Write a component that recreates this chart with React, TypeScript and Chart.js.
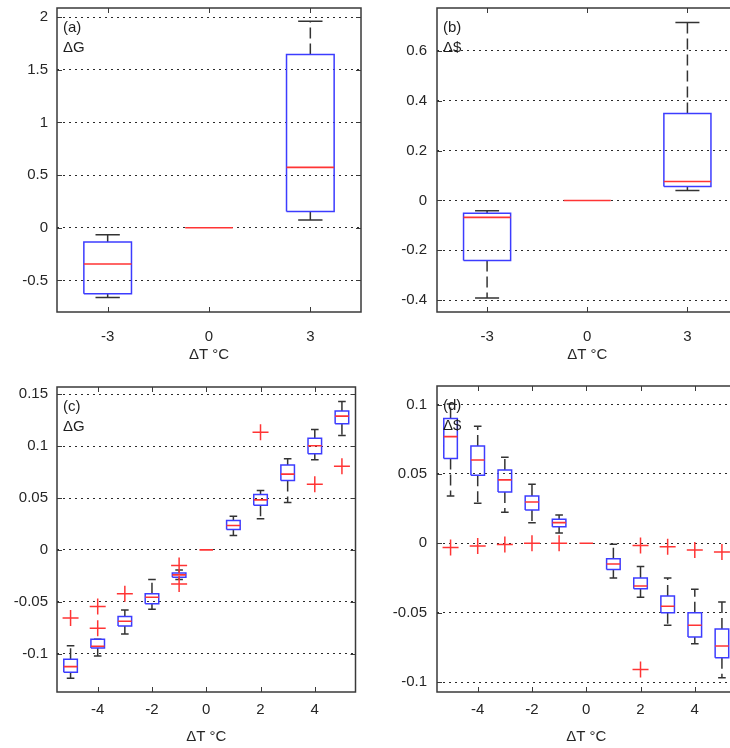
import React, { useEffect, useRef } from 'react';
import { Chart, registerables } from 'chart.js';

Chart.register(...registerables);

// ---------- data ----------
// Panels (a) and (b): three warming scenarios
const catsAB = ['-3', '0', '3'];
const posAB = [1, 2, 3];
const yTicksA = [-0.5, 0, 0.5, 1, 1.5, 2];
const aQ1 = [-0.627, 0, 0.155];
const aMed = [-0.345, 0, 0.573];
const aQ3 = [-0.136, 0, 1.644];
const aLo = [-0.663, 0, 0.073];
const aHi = [-0.067, 0, 1.96];

const yTicksB = [-0.4, -0.2, 0, 0.2, 0.4, 0.6];
const bQ1 = [-0.241, 0, 0.056];
const bMed = [-0.068, 0, 0.076];
const bQ3 = [-0.051, 0, 0.348];
const bLo = [-0.391, 0, 0.04];
const bHi = [-0.041, 0, 0.713];

// Panels (c) and (d): ΔT from -5 to 5 °C
const tempsCD = [-5, -4, -3, -2, -1, 0, 1, 2, 3, 4, 5];
const xTicksCD = [-4, -2, 0, 2, 4];

const yTicksC = [-0.1, -0.05, 0, 0.05, 0.1, 0.15];
const cQ1 = [-0.118, -0.0945, -0.0733, -0.052, -0.0264, 0, 0.0196, 0.0431, 0.0669, 0.0926, 0.1215];
const cMed = [-0.1125, -0.0929, -0.0688, -0.0457, -0.0241, 0, 0.0235, 0.0482, 0.073, 0.1003, 0.1289];
const cQ3 = [-0.1055, -0.0862, -0.0643, -0.0424, -0.0222, 0, 0.0283, 0.0534, 0.0817, 0.1077, 0.1338];
const cLo = [-0.1238, -0.1024, -0.081, -0.0572, -0.0285, 0, 0.0138, 0.0299, 0.0457, 0.0868, 0.1103];
const cHi = [-0.0923, -0.0862, -0.0579, -0.0286, -0.0195, 0, 0.0325, 0.0572, 0.0878, 0.116, 0.1431];
const cOutX = [-5, -4, -4, -3, -1, -1, 2, 4, 5];
const cOutY = [-0.0656, -0.0547, -0.0756, -0.0424, -0.0151, -0.0328, 0.1135, 0.0633, 0.0807];

const yTicksD = [-0.1, -0.05, 0, 0.05, 0.1];
const dQ1 = [0.0611, 0.049, 0.037, 0.024, 0.012, 0, -0.0188, -0.0327, -0.05, -0.0675, -0.0825];
const dMed = [0.0769, 0.0601, 0.0457, 0.0298, 0.0149, 0, -0.0149, -0.0308, -0.0454, -0.0591, -0.074];
const dQ3 = [0.0899, 0.0702, 0.0529, 0.0341, 0.0173, 0, -0.0111, -0.025, -0.038, -0.05, -0.0618];
const dLo = [0.0341, 0.0288, 0.0224, 0.0149, 0.0075, 0, -0.025, -0.0389, -0.0591, -0.0724, -0.0969];
const dHi = [0.1005, 0.0844, 0.062, 0.0426, 0.0204, 0, -0.0007, -0.0168, -0.025, -0.0332, -0.0423];
const dOutX = [-5, -4, -3, -2, -1, 2, 2, 3, 4, 5];
const dOutY = [-0.003, -0.002, -0.0008, 0, 0, -0.0015, -0.0909, -0.0024, -0.0048, -0.0063];

// ---------- styles ----------
const FONT = '"Liberation Sans", Arial, sans-serif';
const TEXT = '#262626';
const BLUE = '#3c3cff';
const RED = '#ff3434';
const DARK = '#333333';

type Pt = { x: number; y: number | null };

function boxDatasets(
  xs: number[], q1: number[], q3: number[], med: number[], lo: number[], hi: number[],
  half: number, capHalf: number, outX: number[], outY: number[]
) {
  const boxes: Pt[] = [];
  const meds: Pt[] = [];
  const whisk: Pt[] = [];
  const caps: Pt[] = [];
  xs.forEach((x, i) => {
    if (q3[i] !== q1[i]) {
      boxes.push(
        { x: x - half, y: q1[i] }, { x: x + half, y: q1[i] }, { x: x + half, y: q3[i] },
        { x: x - half, y: q3[i] }, { x: x - half, y: q1[i] }, { x, y: null }
      );
    }
    meds.push({ x: x - half, y: med[i] }, { x: x + half, y: med[i] }, { x, y: null });
    whisk.push({ x, y: q3[i] }, { x, y: hi[i] }, { x, y: null }, { x, y: q1[i] }, { x, y: lo[i] }, { x, y: null });
    if (hi[i] !== lo[i]) {
      caps.push(
        { x: x - capHalf, y: hi[i] }, { x: x + capHalf, y: hi[i] }, { x, y: null },
        { x: x - capHalf, y: lo[i] }, { x: x + capHalf, y: lo[i] }, { x, y: null }
      );
    }
  });
  const base = { pointRadius: 0, fill: false, tension: 0, spanGaps: false, borderJoinStyle: 'miter' as const };
  const ds: any[] = [
    { ...base, data: whisk, borderColor: DARK, borderWidth: 1.5, borderDash: [11, 5], order: 4 },
    { ...base, data: caps, borderColor: DARK, borderWidth: 1.5, order: 3 },
    { ...base, data: boxes, borderColor: BLUE, borderWidth: 1.5, order: 2 },
    { ...base, data: meds, borderColor: RED, borderWidth: 1.6, order: 1 },
  ];
  if (outX.length) {
    ds.push({
      data: outX.map((x, i) => ({ x, y: outY[i] })),
      showLine: false, pointStyle: 'cross', pointRadius: 8, pointHoverRadius: 8,
      pointBorderColor: RED, pointBorderWidth: 1.5, borderColor: RED, order: 0,
    });
  }
  return ds;
}

type Panel = {
  left: number; top: number; width: number; height: number;
  L: number; T: number; R: number; xH: number;
  xMin: number; xMax: number; xTicks: number[]; xLabel: (v: number) => string;
  yMin: number; yMax: number; yTicks: number[];
  xPad: number; yPad: number; titlePad: number;
  tag: string; qty: string; datasets: any[];
};

function makeFrame(tag: string, qty: string) {
  return {
    id: 'frame' + tag,
    afterDatasetsDraw(chart: any) {
      const { ctx, chartArea: a, scales } = chart;
      ctx.save();
      ctx.fillStyle = '#1e1e1e';
      ctx.font = '15px ' + FONT;
      ctx.textBaseline = 'alphabetic';
      ctx.textAlign = 'left';
      ctx.fillText(tag, a.left + 6, a.top + 24);
      ctx.fillText(qty, a.left + 6, a.top + 43.5);
      ctx.setLineDash([]);
      ctx.strokeStyle = '#3a3a3a';
      ctx.lineWidth = 1;
      const tl = 5;
      scales.y.ticks.forEach((t: any) => {
        const py = Math.round(scales.y.getPixelForValue(t.value)) + 0.5;
        ctx.beginPath();
        ctx.moveTo(a.left, py); ctx.lineTo(a.left + tl, py);
        ctx.moveTo(a.right - tl, py); ctx.lineTo(a.right, py);
        ctx.stroke();
      });
      scales.x.ticks.forEach((t: any) => {
        const px = Math.round(scales.x.getPixelForValue(t.value)) + 0.5;
        ctx.beginPath();
        ctx.moveTo(px, a.top); ctx.lineTo(px, a.top + tl);
        ctx.moveTo(px, a.bottom - tl); ctx.lineTo(px, a.bottom);
        ctx.stroke();
      });
      ctx.lineWidth = 1.5;
      ctx.strokeRect(a.left, a.top, a.right - a.left, a.bottom - a.top);
      ctx.restore();
    },
  };
}

function PanelChart({ p }: { p: Panel }) {
  const ref = useRef<HTMLCanvasElement | null>(null);
  useEffect(() => {
    if (!ref.current) return;
    const font = { family: FONT, size: 15 };
    const chart = new Chart(ref.current, {
      type: 'line',
      data: { datasets: p.datasets },
      options: {
        animation: false,
        responsive: false,
        events: [],
        layout: { padding: { left: 0, top: p.T, right: p.R, bottom: 0 } },
        plugins: { legend: { display: false }, tooltip: { enabled: false } },
        scales: {
          x: {
            type: 'linear',
            min: p.xMin,
            max: p.xMax,
            afterBuildTicks: (s: any) => { s.ticks = p.xTicks.map((v) => ({ value: v })); },
            afterFit: (s: any) => { s.height = p.xH; s.paddingLeft = 0; s.paddingRight = 0; },
            ticks: {
              callback: (v: any) => p.xLabel(Number(v)),
              font, color: TEXT, padding: p.xPad, maxRotation: 0, autoSkip: false,
            },
            grid: { display: false, drawTicks: false },
            border: { display: false },
            title: { display: true, text: 'ΔT °C', font, color: TEXT, padding: { top: 0, bottom: p.titlePad } },
          },
          y: {
            type: 'linear',
            min: p.yMin,
            max: p.yMax,
            afterBuildTicks: (s: any) => { s.ticks = p.yTicks.map((v) => ({ value: v })); },
            afterFit: (s: any) => { s.width = p.L; s.paddingTop = 0; s.paddingBottom = 0; },
            ticks: { callback: (v: any) => String(v), font, color: TEXT, padding: p.yPad, autoSkip: false },
            grid: { color: '#2a2a2a', lineWidth: 1, drawTicks: false },
            border: { display: false, dash: [2, 4] },
          },
        },
      } as any,
      plugins: [makeFrame(p.tag, p.qty)],
    });
    return () => chart.destroy();
  }, [p]);
  return (
    <canvas
      ref={ref}
      width={p.width}
      height={p.height}
      style={{ position: 'absolute', left: p.left, top: p.top, width: p.width, height: p.height }}
    />
  );
}

const catLabel = (v: number) => {
  const i = posAB.indexOf(v);
  return i >= 0 ? catsAB[i] : '';
};

const panels: Panel[] = [
  {
    left: 0, top: 0, width: 365, height: 370, L: 57, T: 8, R: 4, xH: 58,
    xMin: 0.5, xMax: 3.5, xTicks: posAB, xLabel: catLabel,
    yMin: -0.8, yMax: 2.086, yTicks: yTicksA, xPad: 16, yPad: 9, titlePad: 6,
    tag: '(a)', qty: 'ΔG',
    datasets: boxDatasets(posAB, aQ1, aQ3, aMed, aLo, aHi, 0.235, 0.12, [], []),
  },
  {
    left: 365, top: 0, width: 380, height: 370, L: 72, T: 8, R: 7.5, xH: 58,
    xMin: 0.5, xMax: 3.5, xTicks: posAB, xLabel: catLabel,
    yMin: -0.447, yMax: 0.771, yTicks: yTicksB, xPad: 16, yPad: 10, titlePad: 6,
    tag: '(b)', qty: 'Δ$',
    datasets: boxDatasets(posAB, bQ1, bQ3, bMed, bLo, bHi, 0.235, 0.12, [], []),
  },
  {
    left: 0, top: 370, width: 365, height: 378, L: 57, T: 17, R: 5, xH: 56,
    xMin: -5.5, xMax: 5.5, xTicks: xTicksCD, xLabel: (v) => String(v),
    yMin: -0.137, yMax: 0.157, yTicks: yTicksC, xPad: 9, yPad: 9, titlePad: 2,
    tag: '(c)', qty: 'ΔG',
    datasets: boxDatasets(tempsCD, cQ1, cQ3, cMed, cLo, cHi, 0.25, 0.14, cOutX, cOutY),
  },
  {
    left: 365, top: 370, width: 380, height: 378, L: 72, T: 16, R: 7, xH: 56,
    xMin: -5.5, xMax: 5.5, xTicks: xTicksCD, xLabel: (v) => String(v),
    yMin: -0.1072, yMax: 0.1134, yTicks: yTicksD, xPad: 9, yPad: 10, titlePad: 2,
    tag: '(d)', qty: 'Δ$',
    datasets: boxDatasets(tempsCD, dQ1, dQ3, dMed, dLo, dHi, 0.25, 0.14, dOutX, dOutY),
  },
];

export default function App() {
  return (
    <div
      style={{
        position: 'absolute', left: 0, top: 0, width: 730, height: 748,
        overflow: 'hidden', background: '#ffffff',
      }}
    >
      {panels.map((p) => (
        <PanelChart key={p.tag} p={p} />
      ))}
    </div>
  );
}
